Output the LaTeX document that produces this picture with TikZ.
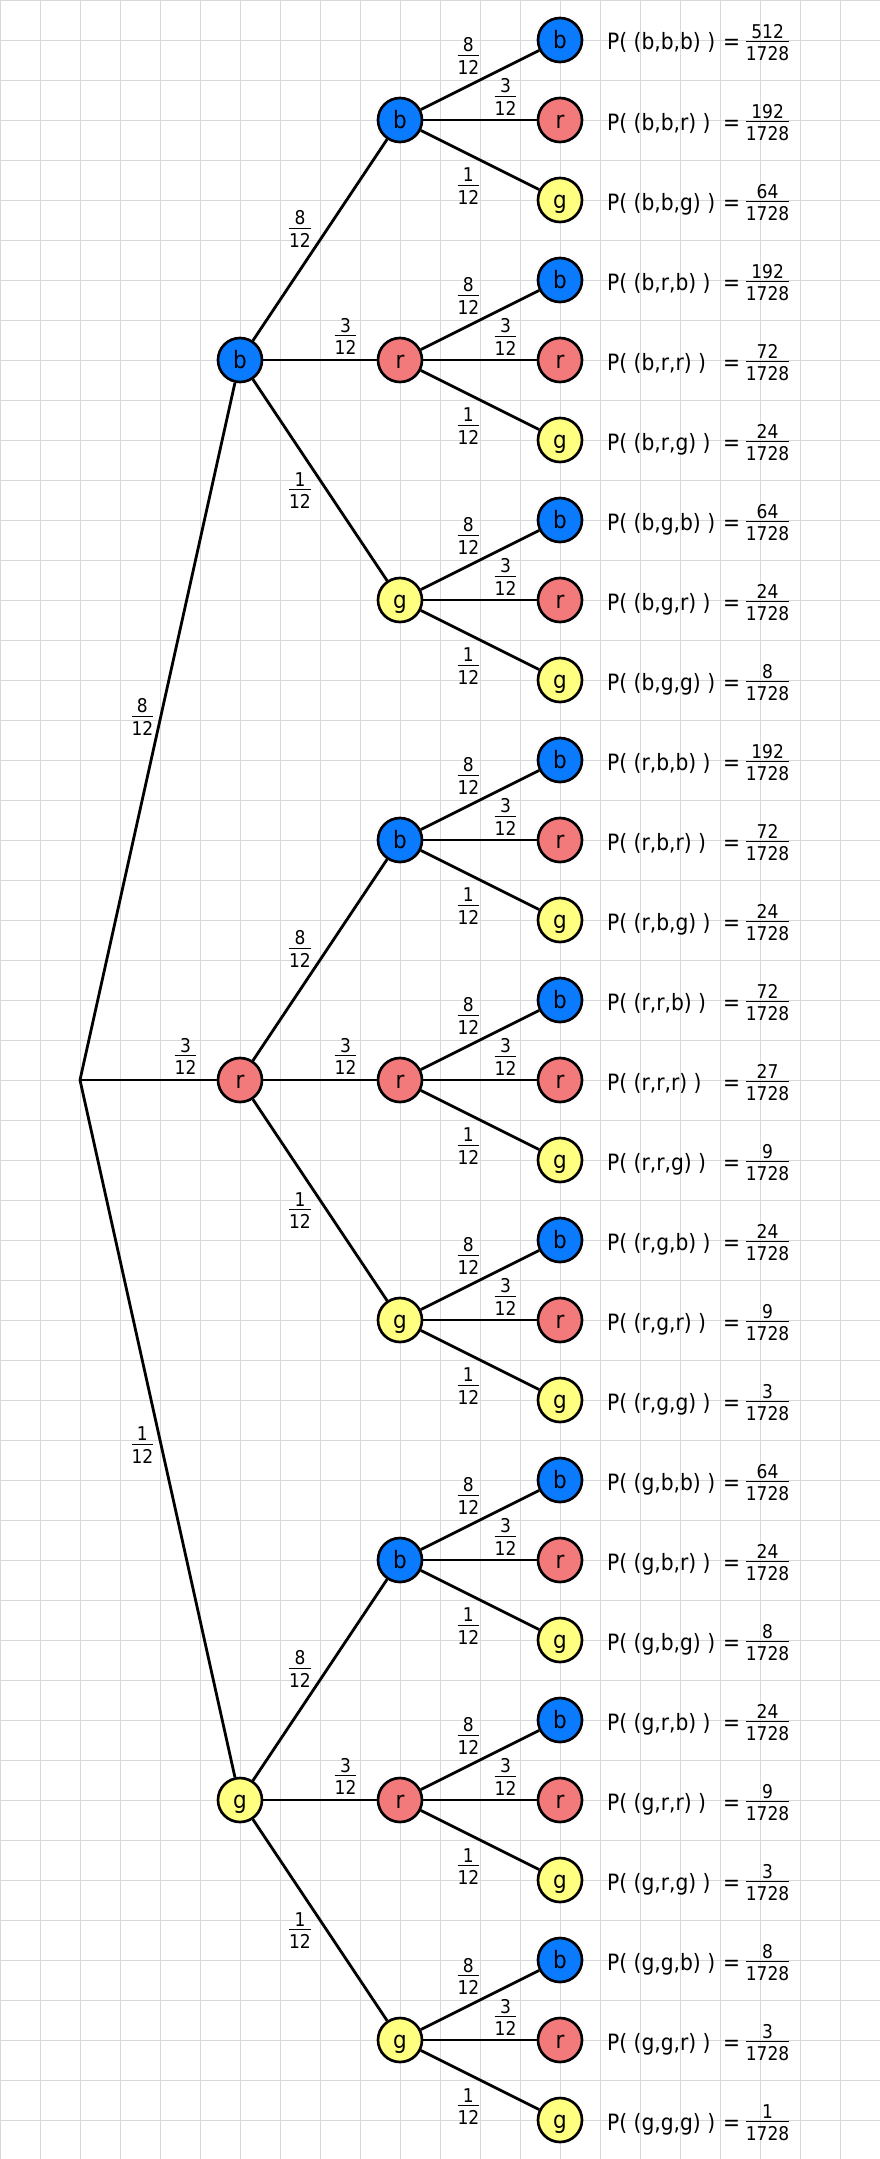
\documentclass[tikz,border=0pt]{standalone}
\usepackage{fontspec}
\setmainfont{DejaVu Sans}[FakeStretch=0.9]
\definecolor{cb}{RGB}{10,122,255}
\definecolor{cr}{RGB}{243,122,122}
\definecolor{cg}{RGB}{255,255,128}
\definecolor{gridc}{RGB}{216,216,216}
\newcommand\fr[2]{{\setlength\arrayrulewidth{0.6pt}\setlength\tabcolsep{0pt}\begin{tabular}{c}#1\\[-3pt]\hline\rule{0pt}{13.5pt}#2\end{tabular}}}
\tikzset{
  ball/.style={circle, draw=black, line width=1.9pt, minimum size=1.1cm, inner sep=0pt,
    font=\fontsize{17}{20}\selectfont, text height=11.5pt, text depth=0pt},
  edge/.style={line width=2pt, black},
  prob/.style={inner sep=0pt, font=\fontsize{13.5}{16}\selectfont, yshift=-2.6pt},
  leaftext/.style={anchor=base west, inner sep=0pt, font=\fontsize{16}{19}\selectfont},
  eqs/.style={anchor=base, inner sep=0pt, font=\fontsize{16}{19}\selectfont},
}
\begin{document}
\begin{tikzpicture}[x=1cm,y=-1cm]
\useasboundingbox (0,0) rectangle (22,53.975);
\fill[white] (0,0) rectangle (22,53.975);
\begin{scope}
\clip (0,0) rectangle (22,53.975);
\draw[gridc, line width=0.7pt] (0,0) grid (22,54);
\end{scope}
\coordinate (R) at (2,27);
\foreach \xa/\pa/\ya/\lxa/\lya in {b/8/9/3.56/17.9, r/3/27/4.64/26.38, g/1/45/3.56/36.1} {
  \node[ball, fill=c\xa] (n\xa) at (6,\ya) {\xa};
  \draw[edge] (R) -- (n\xa);
  \node[prob] (l\xa) at (\lxa,\lya) {\fr{\pa}{12}};
  \foreach \xb/\pb/\dyb/\lxb/\ldyb in {b/8/-6/7.5/-3.3, r/3/0/8.64/-0.62, g/1/6/7.5/3.23} {
    \pgfmathsetmacro\yb{\ya+\dyb}
    \pgfmathsetmacro\lyb{\ya+\ldyb}
    \node[ball, fill=c\xb] (n\xa\xb) at (10,\yb) {\xb};
    \draw[edge] (n\xa) -- (n\xa\xb);
    \node[prob] (l\xa\xb) at (\lxb,\lyb) {\fr{\pb}{12}};
    \foreach \xc/\pc/\dyc/\lxc/\ldyc in {b/8/-2/11.71/-1.625, r/3/0/12.64/-0.6, g/1/2/11.71/1.625} {
      \pgfmathsetmacro\yc{\yb+\dyc}
      \pgfmathsetmacro\lyc{\yb+\ldyc}
      \pgfmathtruncatemacro\num{\pa*\pb*\pc}
      \node[ball, fill=c\xc] (n\xa\xb\xc) at (14,\yc) {\xc};
      \draw[edge] (n\xa\xb) -- (n\xa\xb\xc);
      \node[prob] (l\xa\xb\xc) at (\lxc,\lyc) {\fr{\pc}{12}};
      \node[leaftext] (t\xa\xb\xc) at (15.17,\yc+0.25) {P( (\xa,\xb,\xc) )};
      \node[eqs] (e\xa\xb\xc) at (18.29,\yc+0.25) {=};
      \node[prob] (f\xa\xb\xc) at (19.19,\yc+0.03) {\fr{\num}{1728}};
    }
  }
}
\end{tikzpicture}
\end{document}
